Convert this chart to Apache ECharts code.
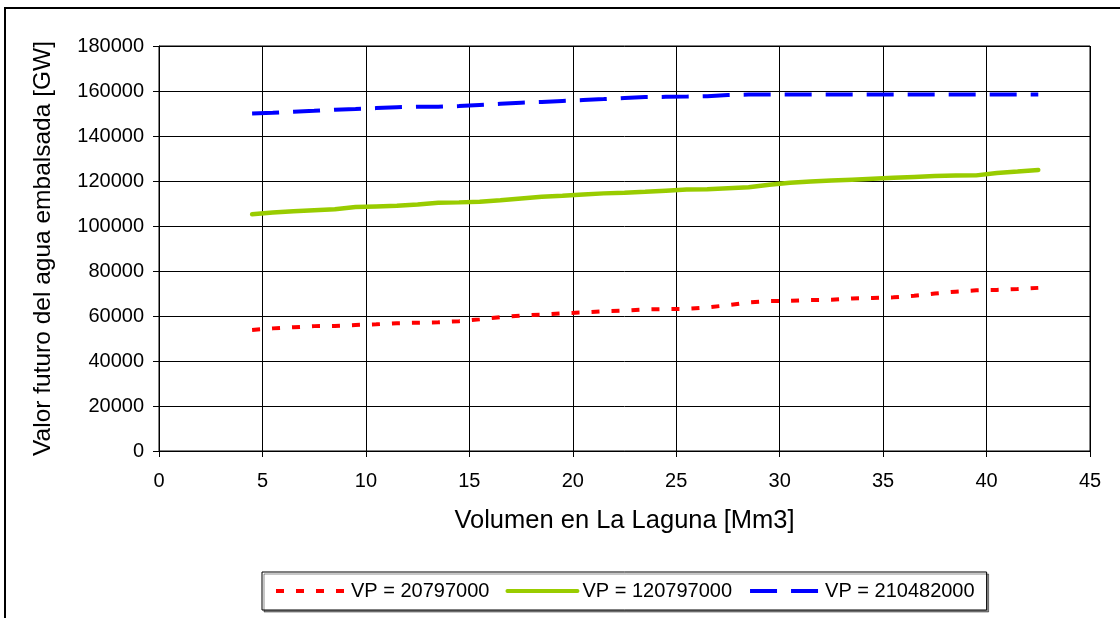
<!DOCTYPE html>
<html>
<head>
<meta charset="utf-8">
<script src="https://cdn.jsdelivr.net/npm/echarts@6/dist/echarts.min.js"></script>
<style>
html,body{margin:0;padding:0;background:#fff;}
#chart{width:1120px;height:618px;}
</style>
</head>
<body>
<div id="chart"></div>
<script>
const xValues = [4.5,5.5,6.5,7.5,8.5,9.5,10.5,11.5,12.5,13.5,14.5,15.5,16.5,17.5,18.5,19.5,20.5,21.5,22.5,23.5,24.5,25.5,26.5,27.5,28.5,29.5,30.5,31.5,32.5,33.5,34.5,35.5,36.5,37.5,38.5,39.5,40.5,41.5,42.5];
const seriesNames = ['VP = 20797000','VP = 120797000','VP = 210482000'];
const redValues = [53800,54500,55000,55500,55600,56000,56300,56800,57000,57200,57700,58500,59500,60200,60600,61200,61600,62100,62400,62900,63100,63200,63800,64800,66000,66600,66800,67100,67200,67800,68000,68300,69000,70000,70800,71400,71600,72000,72500];
const greenValues = [105200,106000,106600,107000,107400,108400,108700,109000,109600,110300,110500,110800,111400,112200,113000,113400,114000,114500,114800,115200,115700,116200,116300,116800,117200,118300,119200,119800,120200,120600,121000,121400,121800,122200,122400,122500,123600,124200,124900];
const blueValues = [150000,150300,150800,151200,151700,152000,152400,152800,153000,153000,153300,153800,154300,154800,155100,155600,156000,156400,156900,157300,157400,157500,157700,158200,158400,158400,158400,158400,158400,158400,158400,158400,158400,158400,158400,158400,158400,158400,158400];
const xTitle = 'Volumen en La Laguna [Mm3]';
const yTitle = 'Valor futuro del agua embalsada [GW]';

function pairs(vals){ return xValues.map((x,i)=>[x, vals[i]]); }

const chart = echarts.init(document.getElementById('chart'), null, {renderer:'canvas'});
const font = 'Liberation Sans, Arial, sans-serif';
chart.setOption({
  animation:false,
  backgroundColor:'#fff',
  textStyle:{fontFamily:font},
  graphic:[{type:'rect', shape:{x:5,y:8,width:1200,height:700}, style:{fill:'none', stroke:'#000', lineWidth:2}, silent:true}],
  grid:{left:159, top:46, right:30, bottom:167, show:true, borderColor:'#000', borderWidth:1},
  xAxis:{type:'value', min:0, max:45, interval:5,
    name:xTitle, nameLocation:'middle', nameGap:57,
    nameTextStyle:{fontSize:25.5, color:'#000', fontFamily:font},
    axisLine:{show:true, onZero:false, lineStyle:{color:'#000'}},
    axisTick:{show:true, length:6, lineStyle:{color:'#000'}},
    axisLabel:{fontSize:20, color:'#000', margin:20, fontFamily:font},
    splitLine:{show:true, lineStyle:{color:'#000', width:1}}
  },
  yAxis:{type:'value', min:0, max:180000, interval:20000,
    name:yTitle, nameLocation:'middle', nameGap:103,
    nameTextStyle:{fontSize:24.5, color:'#000', fontFamily:font},
    axisLine:{show:true, lineStyle:{color:'#000'}},
    axisTick:{show:true, length:6, lineStyle:{color:'#000'}},
    axisLabel:{fontSize:20, color:'#000', margin:15, fontFamily:font, formatter:(v)=>String(v)},
    splitLine:{show:true, lineStyle:{color:'#000', width:1}}
  },
  legend:{left:262, top:572, padding:[9,12], itemGap:16, itemWidth:70, itemHeight:20,
    borderColor:'#000', borderWidth:1, backgroundColor:'#fff',
    shadowColor:'rgba(0,0,0,0.45)', shadowOffsetX:2, shadowOffsetY:2, shadowBlur:0,
    itemStyle:{opacity:0},
    lineStyle:{width:4},
    textStyle:{fontSize:20, color:'#000', fontFamily:font},
    data:seriesNames},
  series:[
    {name:seriesNames[0], type:'line', data:pairs(redValues), symbol:'none', color:'#ff0000',
      lineStyle:{color:'#ff0000', width:4, type:[8,12]}},
    {name:seriesNames[1], type:'line', data:pairs(greenValues), symbol:'none', color:'#99cc00',
      lineStyle:{color:'#99cc00', width:4.5, type:'solid', cap:'round'}},
    {name:seriesNames[2], type:'line', data:pairs(blueValues), symbol:'none', color:'#0000ff',
      lineStyle:{color:'#0000ff', width:4, type:[27,14]}}
  ]
});
</script>
</body>
</html>
